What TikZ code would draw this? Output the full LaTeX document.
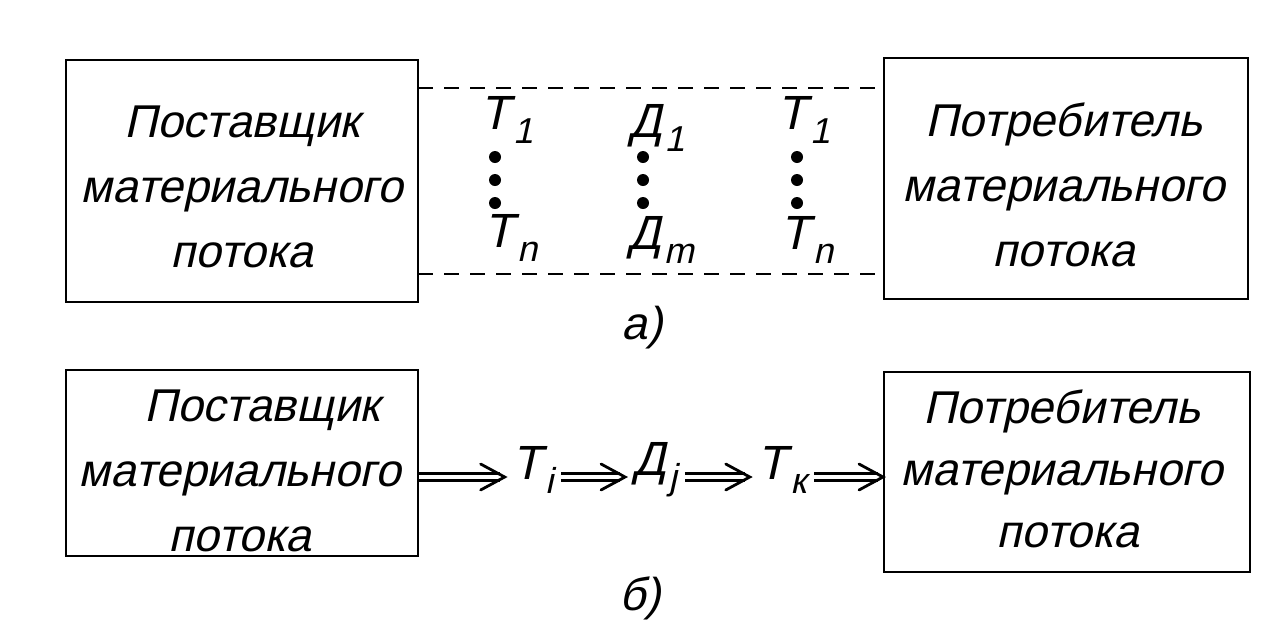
\documentclass[tikz,border=0pt]{standalone}
\usepackage{fontspec}
\newfontfamily\hand[FakeSlant=0.22]{Liberation Sans}
\usetikzlibrary{arrows.meta}
\newcommand{\lowsub}[1]{\kern3pt\raisebox{-0.3em}{\fontsize{36}{36}\selectfont #1}}
\begin{document}
\begin{tikzpicture}[x=1pt,y=-1pt,
  box/.style={draw, line width=2pt, inner sep=0pt},
  lbl/.style={font=\hand\fontsize{46}{65}\selectfont, align=center, inner sep=0pt},
  lbltight/.style={lbl, font=\hand\fontsize{46}{62}\selectfont},
  sym/.style={font=\hand\fontsize{48}{50}\selectfont, inner sep=4pt},
  flow/.style={sym, inner xsep=8pt},
  dashline/.style={dash pattern=on 15pt off 11pt, line width=1.6pt},
  dbl/.style={double, double distance=4.5pt, line width=2.5pt, shorten >=5pt},
  chev/.style={line width=2.8pt, line cap=round, line join=miter},
  dotn/.style={circle, fill, inner sep=0pt, minimum size=12pt}]
\useasboundingbox (0,0) rectangle (1278,622);
% part a
\node[box, minimum width=352pt, minimum height=242pt] (s1) at (242,181) {};
\node[lbl] (s1t) at (242,187) {Поставщик\\материального\\потока};
\node[box, minimum width=364pt, minimum height=241pt] (c1) at (1066,178) {};
\node[lbl] (c1t) at (1064,185) {Потребитель\\материального\\потока};
\coordinate (t1) at (418,88);
\coordinate (b1) at (418,274);
\draw[dashline] (t1) -- (c1.west |- t1);
\draw[dashline] (b1) -- (c1.west |- b1);
\node[sym] (ta) at (507,120) {T\lowsub{1}};
\node[dotn] (ta1) at (495,157) {};
\node[dotn] (ta2) at (495,180) {};
\node[dotn] (ta3) at (495,203) {};
\node[sym] (tan) at (511,238) {T\lowsub{n}};
\node[sym] (da) at (657,128) {Д\lowsub{1}};
\node[dotn] (da1) at (643,157) {};
\node[dotn] (da2) at (643,180) {};
\node[dotn] (da3) at (643,203) {};
\node[sym] (dam) at (661,240) {Д\lowsub{m}};
\node[sym] (tb) at (804,120) {T\lowsub{1}};
\node[dotn] (tb1) at (797,157) {};
\node[dotn] (tb2) at (797,180) {};
\node[dotn] (tb3) at (797,203) {};
\node[sym] (tbn) at (807,240) {T\lowsub{n}};
\node[lbl] (capa) at (642,328) {а)};
% part b
\node[box, minimum width=352pt, minimum height=186pt] (s2) at (242,463) {};
\node[lbl] (s2t) at (240,471) {\hspace*{44pt}Поставщик\\материального\\потока};
\node[box, minimum width=366pt, minimum height=200pt] (c2) at (1067,472) {};
\node[lbltight] (c2t) at (1062,469) {Потребитель\\материального\\\hspace*{12pt}потока};
\node[flow] (ti) at (533,470) {T\lowsub{i}};
\node[flow] (dj) at (655,470) {Д\lowsub{j}};
\node[flow] (tk) at (782,470) {T\lowsub{к}};
\coordinate (a0) at (s2.east |- 0,477);
\coordinate (e1) at (ti.west |- a0);
\coordinate (a1) at (ti.east |- a0);
\coordinate (e2) at (dj.west |- a0);
\coordinate (a2) at (dj.east |- a0);
\coordinate (e3) at (tk.west |- a0);
\coordinate (a3) at (tk.east |- a0);
\coordinate (e4) at (c2.west |- a0);
\draw[dbl] (a0) -- (e1);
\draw[chev] ([xshift=-24pt,yshift=13pt]e1) -- (e1) -- ([xshift=-24pt,yshift=-13pt]e1);
\draw[dbl] (a1) -- (e2);
\draw[chev] ([xshift=-24pt,yshift=13pt]e2) -- (e2) -- ([xshift=-24pt,yshift=-13pt]e2);
\draw[dbl] (a2) -- (e3);
\draw[chev] ([xshift=-24pt,yshift=13pt]e3) -- (e3) -- ([xshift=-24pt,yshift=-13pt]e3);
\draw[dbl] (a3) -- (e4);
\draw[chev] ([xshift=-24pt,yshift=13pt]e4) -- (e4) -- ([xshift=-24pt,yshift=-13pt]e4);
\node[lbl] (capb) at (640,598) {б)};
\end{tikzpicture}
\end{document}
